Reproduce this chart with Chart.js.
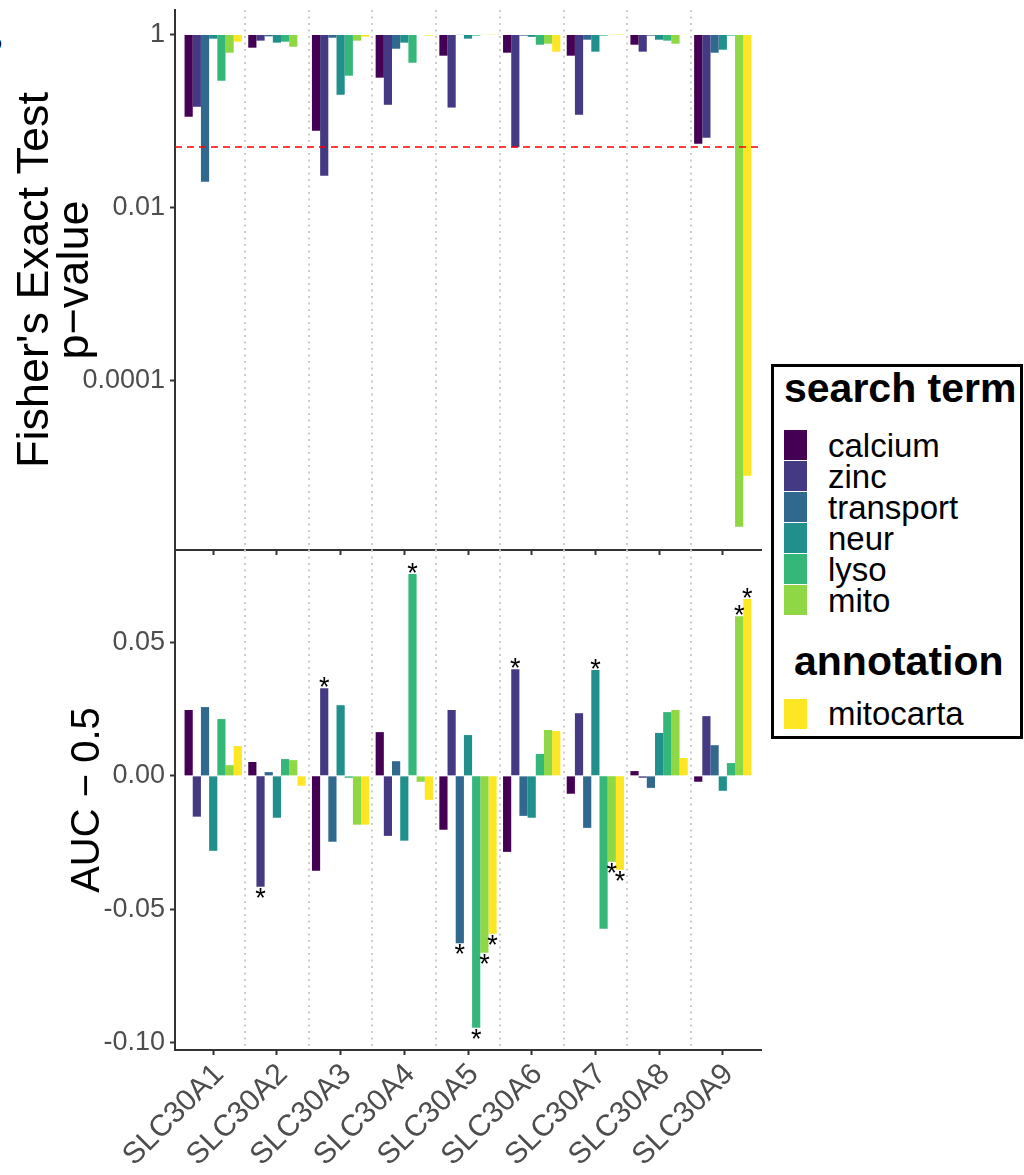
<!DOCTYPE html>
<html>
<head>
<meta charset="utf-8">
<script src="https://cdn.jsdelivr.net/npm/chart.js@4.4.1/dist/chart.umd.min.js"></script>
<style>
  body { margin: 0; background: #fff; width: 1024px; height: 1175px; overflow: hidden; position: relative;
         font-family: "Liberation Sans", Arial, Helvetica, sans-serif; }
  canvas { position: absolute; left: 0; }
  #pvalChart { top: 0; }
  #aucChart { top: 540px; }
  #panelTag { position: absolute; left: -26px; top: 18px; font-size: 40px; line-height: 40px; font-weight: bold; color: #000; }
  #legend { position: absolute; left: 771px; top: 364px; width: 252px; height: 375px; border: 3px solid #000;
            box-sizing: border-box; background: #fff; }
  #legend .title { position: absolute; font-size: 41px; line-height: 41px; font-weight: bold; color: #000; white-space: nowrap; }
  #legend .key { position: absolute; width: 23px; height: 30px; }
  #legend .label { position: absolute; font-size: 33px; line-height: 33px; color: #000; white-space: nowrap; }
</style>
</head>
<body>
<div id="panelTag">B</div>
<canvas id="pvalChart" width="770" height="562"></canvas>
<canvas id="aucChart" width="770" height="635"></canvas>
<div id="legend"></div>
<script>
// Genes on the x axis
const genes = ['SLC30A1', 'SLC30A2', 'SLC30A3', 'SLC30A4', 'SLC30A5', 'SLC30A6', 'SLC30A7', 'SLC30A8', 'SLC30A9'];

// Fisher's exact test p-values per search term
const pCalcium   = [0.112, 0.704, 0.0773, 0.317, 0.569, 0.616, 0.569, 0.762, 0.0547];
const pZinc      = [0.146, 0.849, 0.0233, 0.154, 0.143, 0.0497, 0.118, 0.633, 0.0641];
const pTransport = [0.0199, 0.953, 0.918, 0.685, 0.99, 0.97, 0.871, 0.97, 0.616];
const pNeur      = [0.895, 0.805, 0.201, 0.805, 0.895, 0.94, 0.633, 0.871, 0.667];
const pLyso      = [0.292, 0.826, 0.334, 0.472, 0.97, 0.762, 0.97, 0.849, 0.97];
const pMito      = [0.616, 0.723, 0.849, 0.987, 0.99, 0.783, 0.99, 0.783, 2.04e-6];
const pMitocarta = [0.826, 0.985, 0.944, 0.97, 0.995, 0.633, 0.999, 0.99, 7.93e-6];

// AUC - 0.5 per search term
const aucCalcium   = [0.0247, 0.0052, -0.0356, 0.0164, -0.0202, -0.0285, -0.0067, 0.0018, -0.0022];
const aucZinc      = [-0.0153, -0.0416, 0.0329, -0.0225, 0.0247, 0.0400, 0.0235, -0.0007, 0.0224];
const aucTransport = [0.0258, 0.0014, -0.0247, 0.0055, -0.0628, -0.0150, -0.0195, -0.0045, 0.0115];
const aucNeur      = [-0.0281, -0.0157, 0.0265, -0.0243, 0.0153, -0.0157, 0.0397, 0.0161, -0.0056];
const aucLyso      = [0.0213, 0.0063, -0.0007, 0.0757, -0.0945, 0.0082, -0.0573, 0.0239, 0.0048];
const aucMito      = [0.0040, 0.0059, -0.0183, -0.0022, -0.0663, 0.0172, -0.0322, 0.0247, 0.0599];
const aucMitocarta = [0.0112, -0.0037, -0.0183, -0.0090, -0.0592, 0.0168, -0.0352, 0.0067, 0.0663];

// Significance flags for the AUC bars (1 = starred)
const sigCalcium   = [0, 0, 0, 0, 0, 0, 0, 0, 0];
const sigZinc      = [0, 1, 1, 0, 0, 1, 0, 0, 0];
const sigTransport = [0, 0, 0, 0, 1, 0, 0, 0, 0];
const sigNeur      = [0, 0, 0, 0, 0, 0, 1, 0, 0];
const sigLyso      = [0, 0, 0, 1, 1, 0, 0, 0, 0];
const sigMito      = [0, 0, 0, 0, 1, 0, 1, 0, 1];
const sigMitocarta = [0, 0, 0, 0, 1, 0, 1, 0, 1];

// Axis ticks and the significance threshold
const pTickValues = [1, 0.01, 0.0001];
const pTickLabels = ['1', '0.01', '0.0001'];
const aucTickValues = [0.05, 0, -0.05, -0.10];
const aucTickLabels = ['0.05', '0.00', '-0.05', '-0.10'];
const pThreshold = 0.05;

// Legend groups
const searchTerms = ['calcium', 'zinc', 'transport', 'neur', 'lyso', 'mito'];
const annotations = ['mitocarta'];

// viridis palette, one colour per series
const palette = ['#440154', '#443A83', '#31688E', '#21908C', '#35B779', '#8FD744', '#FDE725'];

const series = [
  { name: 'calcium',   p: pCalcium,   auc: aucCalcium,   sig: sigCalcium },
  { name: 'zinc',      p: pZinc,      auc: aucZinc,      sig: sigZinc },
  { name: 'transport', p: pTransport, auc: aucTransport, sig: sigTransport },
  { name: 'neur',      p: pNeur,      auc: aucNeur,      sig: sigNeur },
  { name: 'lyso',      p: pLyso,      auc: aucLyso,      sig: sigLyso },
  { name: 'mito',      p: pMito,      auc: aucMito,      sig: sigMito },
  { name: 'mitocarta', p: pMitocarta, auc: aucMitocarta, sig: sigMitocarta }
];

const FONT = '"Liberation Sans", Arial, Helvetica, sans-serif';
Chart.defaults.font.family = FONT;
const AXIS = '#333333';
const TICK_TEXT = '#4d4d4d';

// dotted separators between gene groups
const separators = {
  id: 'separators',
  beforeDatasetsDraw(chart) {
    const { ctx, chartArea: a, scales: { x } } = chart;
    ctx.save();
    ctx.strokeStyle = '#cccccc';
    ctx.lineWidth = 2;
    ctx.setLineDash([2, 4.5]);
    for (let i = 0; i < genes.length - 1; i++) {
      const px = Math.round(x.getPixelForValue(i + 0.5));
      ctx.beginPath();
      ctx.moveTo(px, a.top);
      ctx.lineTo(px, a.bottom);
      ctx.stroke();
    }
    ctx.restore();
  }
};

// dashed p = 0.05 reference line
const thresholdLine = {
  id: 'thresholdLine',
  afterDatasetsDraw(chart) {
    const { ctx, chartArea: a, scales: { y } } = chart;
    const py = y.getPixelForValue(pThreshold);
    ctx.save();
    ctx.strokeStyle = '#ff0000';
    ctx.lineWidth = 1.5;
    ctx.setLineDash([7, 5]);
    ctx.beginPath();
    ctx.moveTo(a.left, py);
    ctx.lineTo(a.right, py);
    ctx.stroke();
    ctx.restore();
  }
};

// asterisks at the end of significant AUC bars
const stars = {
  id: 'stars',
  afterDatasetsDraw(chart) {
    const { ctx } = chart;
    ctx.save();
    ctx.font = '27px ' + FONT;
    ctx.fillStyle = '#000';
    ctx.textAlign = 'center';
    ctx.textBaseline = 'alphabetic';
    const m = ctx.measureText('*');
    const half = (m.actualBoundingBoxAscent - m.actualBoundingBoxDescent) / 2;
    series.forEach((s, di) => {
      const meta = chart.getDatasetMeta(di);
      s.sig.forEach((flag, i) => {
        if (!flag) return;
        const bar = meta.data[i];
        const cy = s.auc[i] >= 0 ? bar.y - 6 : bar.y + 6;
        ctx.fillText('*', bar.x, cy + half);
      });
    });
    ctx.restore();
  }
};

function xAxis(showLabels) {
  return {
    type: 'linear',
    min: -0.6,
    max: 8.6,
    offset: false,
    afterBuildTicks: s => { s.ticks = genes.map((g, i) => ({ value: i })); },
    afterFit: s => {
      s.height = showLabels ? 125 : 12;
      s.paddingLeft = 0; s.paddingRight = 0; s.paddingTop = 0; s.paddingBottom = 0;
    },
    grid: { display: true, offset: false, drawOnChartArea: false, drawTicks: true, tickLength: 5, tickColor: AXIS, tickWidth: 2 },
    border: { display: true, color: AXIS, width: 2 },
    ticks: {
      display: showLabels,
      autoSkip: false,
      minRotation: 45,
      maxRotation: 45,
      padding: 2,
      labelOffset: 6,
      color: TICK_TEXT,
      font: { size: 30 },
      callback: v => genes[v]
    }
  };
}

function yAxisCommon() {
  return {
    afterFit: s => {
      s.width = 175;
      s.paddingLeft = 0; s.paddingRight = 0; s.paddingTop = 0; s.paddingBottom = 0;
    },
    grid: { display: true, drawOnChartArea: false, drawTicks: true, tickLength: 5, tickColor: AXIS, tickWidth: 2 },
    border: { display: true, color: AXIS, width: 2 }
  };
}

const common = {
  responsive: false,
  animation: false,
  events: [],
  plugins: { legend: { display: false }, tooltip: { enabled: false } }
};

// Fisher's exact test panel (log scale, bars hang from 1)
new Chart(document.getElementById('pvalChart'), {
  type: 'bar',
  data: {
    datasets: series.map((s, k) => ({
      label: s.name,
      data: s.p.map((v, i) => ({ x: i, y: v })),
      backgroundColor: palette[k],
      borderWidth: 0,
      base: 1,
      categoryPercentage: 0.9,
      barPercentage: 1
    }))
  },
  options: {
    ...common,
    layout: { padding: { left: 0, top: 10, right: 9, bottom: 0 } },
    scales: {
      x: xAxis(false),
      y: {
        ...yAxisCommon(),
        type: 'logarithmic',
        min: 1.097e-6,
        max: 1.92,
        bounds: 'data',
        afterBuildTicks: s => { s.ticks = pTickValues.map(v => ({ value: v })); },
        ticks: { padding: 5, color: TICK_TEXT, font: { size: 27 }, callback: (v, i) => pTickLabels[i] },
        title: {
          display: true,
          text: ["Fisher's Exact Test", 'p\u2212value'],
          color: '#000',
          font: { size: 45, lineHeight: 0.889 },
          padding: { top: 16, bottom: 0 }
        }
      }
    }
  },
  plugins: [separators, thresholdLine]
});

// AUC panel
new Chart(document.getElementById('aucChart'), {
  type: 'bar',
  data: {
    datasets: series.map((s, k) => ({
      label: s.name,
      data: s.auc.map((v, i) => ({ x: i, y: v })),
      backgroundColor: palette[k],
      borderWidth: 0,
      categoryPercentage: 0.9,
      barPercentage: 1
    }))
  },
  options: {
    ...common,
    layout: { padding: { left: 0, top: 10, right: 9, bottom: 0 } },
    scales: {
      x: xAxis(true),
      y: {
        ...yAxisCommon(),
        type: 'linear',
        min: -0.1028,
        max: 0.0847,
        afterBuildTicks: s => { s.ticks = aucTickValues.map(v => ({ value: v })); },
        ticks: { padding: 5, color: TICK_TEXT, font: { size: 27 }, callback: (v, i) => aucTickLabels[i] },
        title: {
          display: true,
          text: 'AUC \u2212 0.5',
          color: '#000',
          font: { size: 40, lineHeight: 0.8 },
          padding: { top: 72, bottom: 0 }
        }
      }
    }
  },
  plugins: [separators, stars]
});

// Legend: search terms and annotation
(function buildLegend() {
  const box = document.getElementById('legend');
  const add = (cls, text, left, top, color) => {
    const el = document.createElement('div');
    el.className = cls;
    el.style.left = left + 'px';
    el.style.top = top + 'px';
    if (text) el.textContent = text;
    if (color) el.style.background = color;
    box.appendChild(el);
  };
  add('title', 'search term', 10, 1);
  searchTerms.forEach((name, i) => {
    add('key', null, 10, 63 + 31 * i, palette[i]);
    add('label', name, 54, 62 + 31 * i);
  });
  add('title', 'annotation', 20, 274);
  annotations.forEach((name, j) => {
    add('key', null, 10, 332 + 31 * j, palette[searchTerms.length + j]);
    add('label', name, 54, 330 + 31 * j);
  });
})();
</script>
</body>
</html>
